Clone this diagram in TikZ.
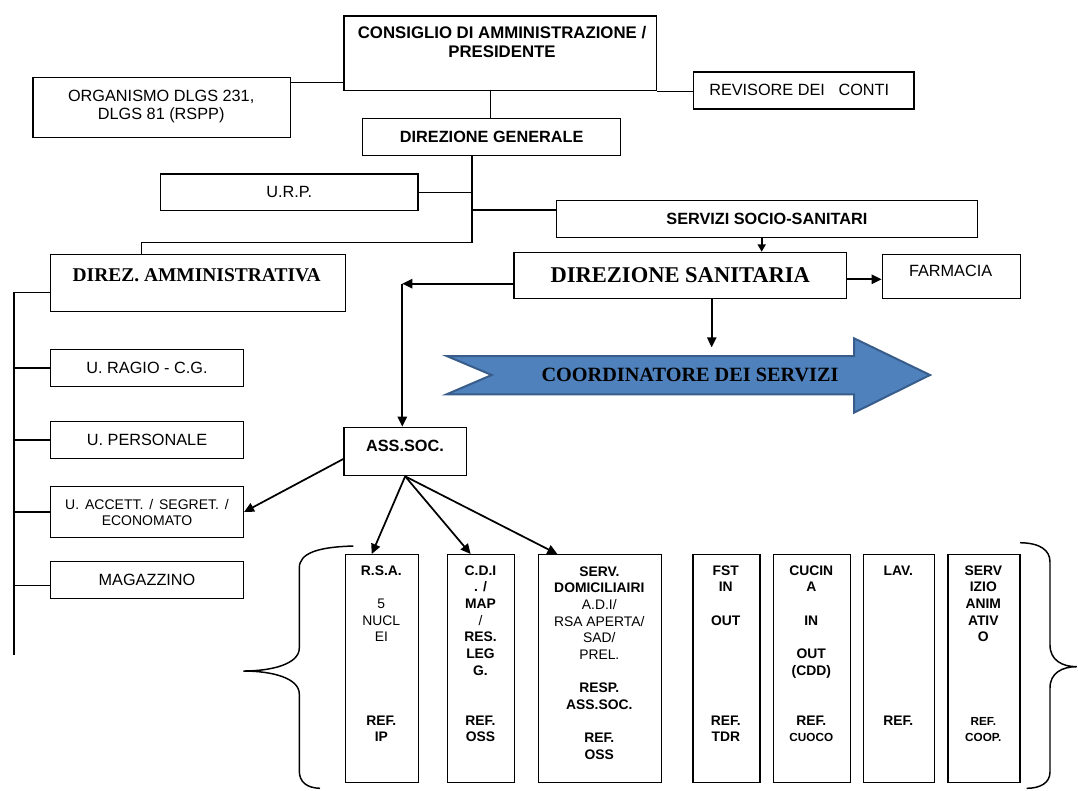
\documentclass[tikz,border=0pt]{standalone}
\usepackage{fontspec}
\setmainfont{Liberation Sans}
\newfontfamily\tnr{Liberation Serif}
\usetikzlibrary{arrows.meta,calc}
\definecolor{cfill}{HTML}{4F81BD}
\definecolor{cbord}{HTML}{385D8A}
\newcommand\ffa{\fontsize{12.2}{14.6}\selectfont}
\newcommand\ffb{\fontsize{12.2}{14.6}\bfseries\selectfont}
\newcommand\ffs{\fontsize{8.8}{10}\selectfont}
\newcommand\stt{\rule{0pt}{10pt}}
\begin{document}
\begin{tikzpicture}[x=0.75pt,y=-0.75pt,
  bx/.style 2 args={draw, line width=1pt, inner sep=0pt, anchor=north west,
    minimum width=#1*0.75pt, minimum height=#2*0.75pt},
  lbl/.style={inner sep=0pt, align=center},
  col/.style={inner sep=0pt, align=center, anchor=north, font=\fontsize{10.4}{12.5}\selectfont},
  ln/.style={line width=0.8pt},
  brace/.style={line width=1.1pt},
  ar/.style={line width=1.3pt, -{Triangle[length=7.5pt,width=7pt]}},
  ars/.style={line width=1.3pt, -{Triangle[length=5.5pt,width=6pt]}}]
\useasboundingbox (0,0) rectangle (1078,790);

% top level
\node[bx={312.4}{74.7}] (cons) at (343.3,15.3) {};
\node[lbl, anchor=north, font=\fontsize{12.6}{14.5}\bfseries\selectfont] (consT) at (502,22.3)
  {\rule{0pt}{12pt}CONSIGLIO DI AMMINISTRAZIONE /\\PRESIDENTE};
\node[bx={257.7}{59.7}] (org) at (32.3,77) {};
\node[lbl, anchor=north, font=\fontsize{12.2}{13.7}\selectfont] (orgT) at (161.2,84.9)
  {\rule{0pt}{12pt}ORGANISMO DLGS 231,\\DLGS 81 (RSPP)};
\node[bx={220.6}{37}] (rev) at (692.7,71.3) {};
\node[lbl, anchor=base west, font=\ffa] (revT) at (709,95.2) {REVISORE DEI\ \ \ CONTI};
\node[bx={258}{37}, font=\ffb] (dg) at (362,118) {DIREZIONE GENERALE};
\node[bx={257.3}{36.7}, font=\ffa] (urp) at (160,173.3) {U.R.P.};
\node[bx={421}{36.7}, font=\ffb] (ss) at (555.7,200) {SERVIZI SOCIO-SANITARI};

% direzioni
\node[bx={295}{56.7}] (dam) at (50,254) {};
\node[lbl, anchor=base, font=\tnr\bfseries\fontsize{14.6}{17}\selectfont] (damT) at (196.7,281.6) {DIREZ. AMMINISTRATIVA};
\node[bx={332.7}{46}, font=\tnr\bfseries\fontsize{16.9}{20}\selectfont] (ds) at (513.3,251.7) {DIREZIONE SANITARIA};
\node[bx={138}{43.7}] (farm) at (881.7,254) {};
\node[lbl, anchor=base, font=\ffa] (farmT) at (950.6,276.5) {FARMACIA};

% left column
\node[bx={192.7}{36.7}, font=\ffa] (urag) at (50,349) {U. RAGIO - C.G.};
\node[bx={192.7}{36.7}, font=\ffa] (upers) at (50,421) {U. PERSONALE};
\node[bx={192.7}{50.7}, align=center, font=\fontsize{10.5}{12}\selectfont] (uacc) at (50,486)
  {{\spaceskip=0.42em U. ACCETT. / SEGRET. /}\\ECONOMATO};
\node[bx={192.7}{37}, font=\ffa] (mag) at (50,560.7) {MAGAZZINO};

% ass soc
\node[bx={122.4}{48.3}] (as) at (343.3,426.7) {};
\node[lbl, anchor=base, font=\ffb] (asT) at (405,451.7) {ASS.SOC.};

% coordinatore arrow
\draw[draw=cbord, fill=cfill, line width=1.5pt, line join=miter]
  (446.7,356) -- (854,356) -- (854,338.3) -- (930,375) -- (854,412.7) -- (854,394.3)
  -- (446.7,394.3) -- (491.7,375) -- cycle;
\node[lbl, anchor=base, font=\tnr\bfseries\fontsize{15.2}{18}\selectfont] (coord) at (690,381.9) {COORDINATORE DEI SERVIZI};

% bottom boxes
\node[bx={73.3}{227.7}] (rsa) at (344.7,554) {};
\node[bx={67}{227.7}] (cdi) at (447,554) {};
\node[bx={123.3}{227.7}] (sd) at (537.7,554) {};
\node[bx={67}{227.7}] (fst) at (692.3,554) {};
\node[bx={77.3}{227.7}] (cuc) at (772.7,554) {};
\node[bx={71.3}{227.7}] (lav) at (862.7,554) {};
\node[bx={72}{227.7}] (sa) at (947.3,554) {};

\node[col] (rsaT) at (381.3,561.7) {\stt\textbf{R.S.A.}\\{}\\5\\NUCL\\EI\\{}\\{}\\{}\\{}\\\textbf{REF.}\\\textbf{IP}};
\node[col] (cdiT) at (480.5,561.7) {\stt\textbf{C.D.I}\\\textbf{. /}\\\textbf{MAP}\\/\\\textbf{RES.}\\\textbf{LEG}\\\textbf{G.}\\{}\\{}\\\textbf{REF.}\\\textbf{OSS}};
\node[col] (sdT) at (599.3,562.5) {\stt\textbf{SERV.}\\\textbf{DOMICILIAIRI}\\A.D.I/\\RSA APERTA/\\SAD/\\PREL.\\{}\\\textbf{RESP.}\\\textbf{ASS.SOC.}\\{}\\\textbf{REF.}\\\textbf{OSS}};
\node[col, font=\fontsize{10.4}{12.5}\bfseries\selectfont] (fstT) at (725.8,561.7) {\stt FST\\IN\\{}\\OUT\\{}\\{}\\{}\\{}\\{}\\REF.\\TDR};
\node[col, font=\fontsize{10.4}{12.5}\bfseries\selectfont] (cucT) at (811.3,561.7) {\stt CUCIN\\A\\{}\\IN\\{}\\OUT\\(CDD)\\{}\\{}\\REF.\\{\ffs CUOCO}};
\node[col, font=\fontsize{10.4}{12.5}\bfseries\selectfont] (lavT) at (898.3,561.7) {\stt LAV.\\{}\\{}\\{}\\{}\\{}\\{}\\{}\\{}\\REF.};
\node[col, font=\fontsize{10.4}{12.5}\bfseries\selectfont] (saT) at (983.3,561.7) {\stt SERV\\IZIO\\ANIM\\ATIV\\O\\{}\\{}\\{}\\{}\\{\ffs REF.}\\{\ffs COOP.}};

% connectors top
\draw[ln] ([yshift=-4pt]org.north east) coordinate (o1) -- (o1 -| cons.west);
\draw[ln] (cons.south east) -- (cons.south east -| rev.west);
\coordinate (v1) at (490.7,0);
\draw[ln] (cons.south -| v1) -- (dg.north -| v1);
\coordinate (j1) at (472,242.3);
\coordinate (ja) at (141.7,242.3);
\coordinate (jss) at (472,210);
\draw[ln] (dg.south -| j1) -- (j1) -- (ja) -- (ja |- dam.north);
\draw[ln] (urp.east) -- (urp.east -| j1);
\draw[ln] (jss) -- (jss -| ss.west);
\coordinate (v2) at (761.7,0);
\draw[ars] (ss.south -| v2) -- (ds.north -| v2);
\coordinate (h1) at (0,279.3);
\draw[ar] (ds.east |- h1) -- (farm.west |- h1);
\coordinate (c1) at (402.3,283.7);
\draw[ar] (ds.west |- c1) -- (c1);
\draw[ar] (c1) -- (c1 |- as.north);
\coordinate (v3) at (711.7,0);
\coordinate (cend) at (711.7,347.3);
\draw[ar] (ds.south -| v3) -- (cend);

% ass soc arrows
\draw[ar] ([yshift=-5.6pt]as.west) -- (uacc.east);
\draw[ar] (as.south) -- ([xshift=-7.7pt]rsa.north);
\draw[ar] (as.south) -- ([xshift=-7.9pt]cdi.north);
\draw[ar] (as.south) -- ([xshift=-32pt]sd.north);

% left column line
\coordinate (lt) at (14,292.3);
\coordinate (lb) at (14,655);
\coordinate (lm) at (14,585.7);
\draw[ln] (lt -| dam.west) -- (lt) -- (lb);
\draw[ln] (urag.west) -- (urag.west -| lt);
\draw[ln] (upers.west) -- (upers.west -| lt);
\draw[ln] (uacc.west) -- (uacc.west -| lt);
\draw[ln] (lm) -- (lm -| mag.west);

% braces
\draw[brace] (353.3,546) .. controls (318,547) and (299.3,553) .. (299.3,568) -- (299.3,648)
  .. controls (299.3,664) and (272,671) .. (243.3,671)
  .. controls (272,671) and (299.3,678) .. (299.3,694) -- (299.3,771)
  .. controls (299.3,782) and (307,788) .. (320,788.3);
\draw[brace] (1020,542.7) .. controls (1040,543) and (1050,550) .. (1050,562) -- (1050,645)
  .. controls (1050,660) and (1062,666.7) .. (1076.7,666.7)
  .. controls (1062,666.7) and (1050,673) .. (1050,688) -- (1050,772)
  .. controls (1050,783) and (1040,788.3) .. (1026.7,788.3);
\end{tikzpicture}
\end{document}
